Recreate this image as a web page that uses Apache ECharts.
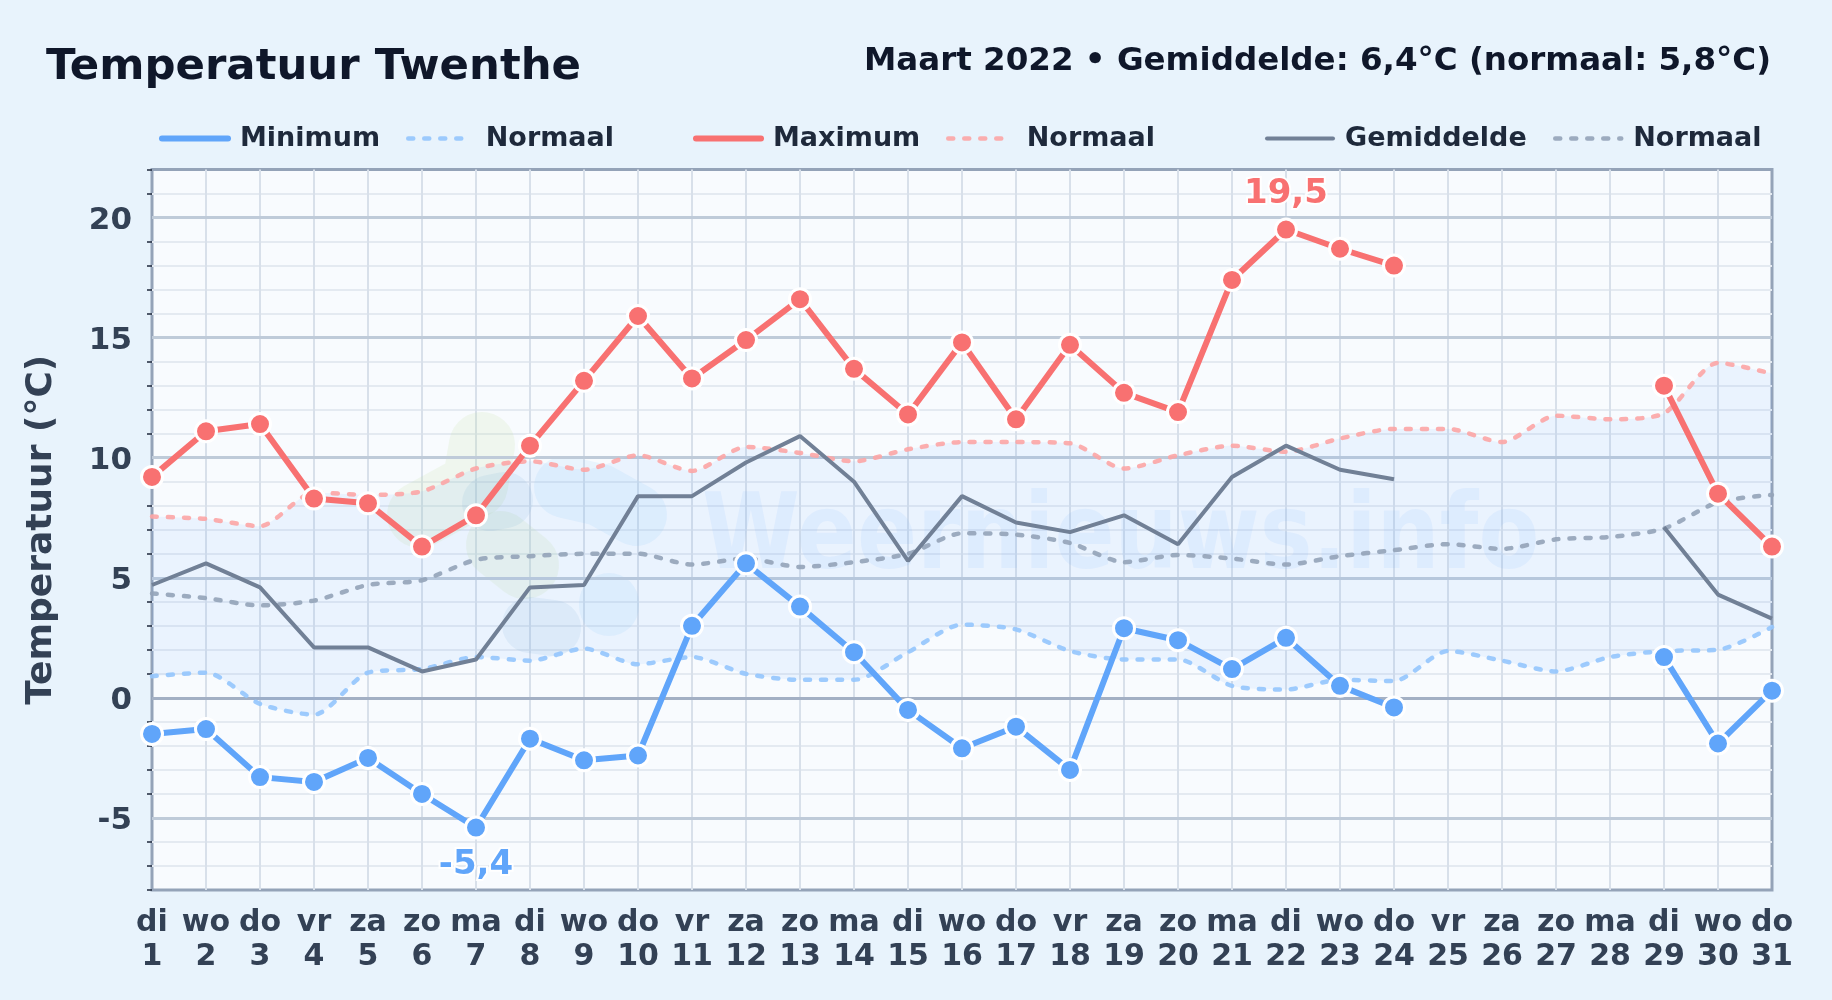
<!DOCTYPE html>
<html>
<head>
<meta charset="utf-8">
<style>html,body{margin:0;padding:0;background:#e8f3fc;}#c{width:1832px;height:1000px;}</style>
<script src="https://cdn.jsdelivr.net/npm/echarts@6/dist/echarts.min.js"></script>
</head>
<body>
<div id="c"></div>
<script>
const weekdays = ['di','wo','do','vr','za','zo','ma','di','wo','do','vr','za','zo','ma','di','wo','do','vr','za','zo','ma','di','wo','do','vr','za','zo','ma','di','wo','do'];
const days = [1,2,3,4,5,6,7,8,9,10,11,12,13,14,15,16,17,18,19,20,21,22,23,24,25,26,27,28,29,30,31];
const minimum = [-1.5,-1.3,-3.3,-3.5,-2.5,-4.0,-5.4,-1.7,-2.6,-2.4,3.0,5.6,3.8,1.9,-0.5,-2.1,-1.2,-3.0,2.9,2.4,1.2,2.5,0.5,-0.4,null,null,null,null,1.7,-1.9,0.3];
const maximum = [9.2,11.1,11.4,8.3,8.1,6.3,7.6,10.5,13.2,15.9,13.3,14.9,16.6,13.7,11.8,14.8,11.6,14.7,12.7,11.9,17.4,19.5,18.7,18.0,null,null,null,null,13.0,8.5,6.3];
const gemiddelde = [4.7,5.6,4.6,2.1,2.1,1.1,1.6,4.6,4.7,8.4,8.4,9.8,10.9,9.0,5.7,8.4,7.3,6.9,7.6,6.4,9.2,10.5,9.5,9.1,null,null,null,null,7.1,4.3,3.3];
const normaalMin = [0.9,1.05,-0.25,-0.7,1.05,1.2,1.7,1.55,2.05,1.4,1.7,1.0,0.75,0.75,1.9,3.05,2.85,1.95,1.6,1.6,0.5,0.35,0.75,0.7,1.95,1.55,1.1,1.7,1.95,2.0,2.95];
const normaalMax = [7.55,7.45,7.15,8.55,8.45,8.6,9.55,9.85,9.5,10.1,9.45,10.45,10.2,9.85,10.35,10.65,10.65,10.6,9.55,10.1,10.5,10.25,10.8,11.2,11.2,10.65,11.75,11.6,11.85,13.95,13.5];
const normaalGem = [4.35,4.15,3.85,4.05,4.7,4.9,5.75,5.9,6.0,6.0,5.55,5.8,5.45,5.65,6.0,6.85,6.8,6.45,5.65,5.95,5.8,5.55,5.9,6.15,6.4,6.2,6.6,6.7,7.05,8.15,8.45];
const majorTicks = [-5,0,5,10,15,20];
const minorTicks = [-8,-7,-6,-4,-3,-2,-1,1,2,3,4,6,7,8,9,11,12,13,14,16,17,18,19,21,22];

const FONT = '"DejaVu Sans"';
const blue = '#60a5fa', red = '#f87171', grey = '#718096';

function comma(v){ return String(v).replace('.', ','); }
function withPeak(values, peak, color, pos, dist){
  return values.map(v => v === peak ? {
    value: v,
    label: {show:true, position:pos, distance:dist, formatter:comma(v), color:color,
            fontFamily:FONT, fontWeight:'bold', fontSize:34,
            textBorderColor:'rgba(255,255,255,0.9)', textBorderWidth:4}
  } : v);
}
function mainLine(name, data, color){
  return {name, type:'line', data, z:6, connectNulls:false,
    symbol:'circle', symbolSize:21, showSymbol:true,
    lineStyle:{color, width:6}, itemStyle:{color, borderColor:'#fff', borderWidth:3}};
}
function normLine(name, data, color){
  return {name, type:'line', data, z:3, smooth:0.25, symbol:'none',
    lineStyle:{color, width:4.5, type:[5,11], cap:'round', opacity:0.9}, itemStyle:{color}};
}
function legendAt(name, left, width, lw, dashed, color, pad){
  return {show:true, left, top:120, data:[name], itemWidth:width, itemHeight:28, selectedMode:false,
    formatter:n => n.indexOf('Normaal') === 0 ? 'Normaal' : n,
    itemStyle:{opacity:0},
    lineStyle:{width:lw, color, opacity:dashed?0.9:1, cap:'round', type:dashed?[5,11]:'solid'},
    textStyle:{fontFamily:FONT, fontWeight:'bold', fontSize:27, color:'#1e293b', padding:[0,0,0,pad]}};
}
function blob(points, lineWidth, stroke){
  return {type:'polyline', z:1, silent:true, shape:{points},
    style:{fill:'none', stroke, lineWidth, lineCap:'round', lineJoin:'round'}};
}
const bGreen='rgba(195,225,160,0.17)', bDark='rgba(110,160,210,0.11)', bLight='rgba(130,195,250,0.12)';

const option = {
  backgroundColor:'#e8f3fc',
  animation:false,
  textStyle:{fontFamily:FONT},
  title:[
    {text:'Temperatuur Twenthe', left:41, top:41, textStyle:{fontFamily:FONT, fontWeight:'bold', fontSize:43.4, color:'#0f172a'}},
    {text:'Maart 2022 • Gemiddelde: 6,4°C (normaal: 5,8°C)', right:56, top:40, textStyle:{fontFamily:FONT, fontWeight:'bold', fontSize:32.5, color:'#0f172a'}}
  ],
  legend:[
    legendAt('Minimum',154,66,6,false,blue,7),
    legendAt('Normaal minimum',401,62,4.5,true,'#93c5fd',10.5),
    legendAt('Maximum',688,65,6,false,red,7),
    legendAt('Normaal maximum',941,62,4.5,true,'#fca5a5',11.5),
    legendAt('Gemiddelde',1260,66,4,false,grey,7),
    legendAt('Normaal gemiddelde',1548,66,4.5,true,'#94a3b8',7)
  ],
  grid:{left:152, right:60, top:169.5, bottom:110, show:true, backgroundColor:'rgba(255,255,255,0.68)', borderColor:'#94a3b8', borderWidth:3},
  graphic:[
    blob([[482,445],[475,485],[420,515]],66,bGreen), blob([[500,545],[525,565]],68,bGreen),
    blob([[490,503],[505,500]],56,bDark), blob([[592,542]],52,bDark), blob([[530,625],[553,628]],56,bDark),
    blob([[565,487],[600,495],[636,515]],62,bLight), blob([[609,603],[609,606]],60,bLight),
    {type:'text', z:1, silent:true, x:702, y:593, scaleX:0.845, style:{x:0, y:0, verticalAlign:'bottom', text:'Weernieuws.info', font:'bold 105px "DejaVu Sans"',
      fill:'rgba(96,165,250,0.085)'}}
  ],
  xAxis:{type:'category', boundaryGap:false, data:days.map((d,i)=>weekdays[i]+'\n'+d),
    axisLine:{show:false}, axisTick:{show:false},
    axisLabel:{interval:0, margin:16, fontFamily:FONT, fontWeight:'bold', fontSize:30, lineHeight:34, color:'#334155'},
    splitLine:{show:true, showMinLine:false, showMaxLine:false, lineStyle:{color:'#d8e0ea', width:2}}},
  yAxis:{type:'value', min:-8, max:22, interval:1,
    name:'Temperatuur (°C)', nameLocation:'middle', nameGap:92, nameRotate:90,
    nameTextStyle:{fontFamily:FONT, fontWeight:'bold', fontSize:36, color:'#334155'},
    axisLine:{show:false},
    axisTick:{show:true, customValues:minorTicks, length:5, lineStyle:{color:'#1e293b', width:1.5}},
    axisLabel:{customValues:majorTicks, margin:20, verticalAlign:'top', lineHeight:6, fontFamily:FONT, fontWeight:'bold', fontSize:31, color:'#334155'},
    splitLine:{show:true, showMinLine:false, showMaxLine:false, lineStyle:{color:'#e4eaf1', width:2}}},
  series:[
    {name:'bandBase', type:'line', data:normaalMin, stack:'band', stackStrategy:'all', smooth:0.25, symbol:'none', z:1,
      lineStyle:{width:0},
      markLine:{silent:true, symbol:'none', label:{show:false}, z:1,
        data:majorTicks.map(v=>({yAxis:v, lineStyle:{color:v===0?'#a3b0c4':'#bfcbd9', width:3, type:'solid'}}))}},
    {name:'bandRange', type:'line', data:normaalMax.map((v,i)=>v-normaalMin[i]), stack:'band', stackStrategy:'all', smooth:0.25, symbol:'none', z:1,
      lineStyle:{width:0}, areaStyle:{color:'rgba(96,165,250,0.12)'}},
    normLine('Normaal minimum', normaalMin, '#93c5fd'),
    normLine('Normaal maximum', normaalMax, '#fca5a5'),
    normLine('Normaal gemiddelde', normaalGem, '#94a3b8'),
    {name:'Gemiddelde', type:'line', data:gemiddelde, z:4, symbol:'none', lineStyle:{color:grey, width:4}, itemStyle:{color:grey}},
    mainLine('Minimum', withPeak(minimum,-5.4,blue,'bottom',9), blue),
    mainLine('Maximum', withPeak(maximum,19.5,red,'top',6), red)
  ]
};
echarts.init(document.getElementById('c'), null, {renderer:'canvas'}).setOption(option);
</script>
</body>
</html>
